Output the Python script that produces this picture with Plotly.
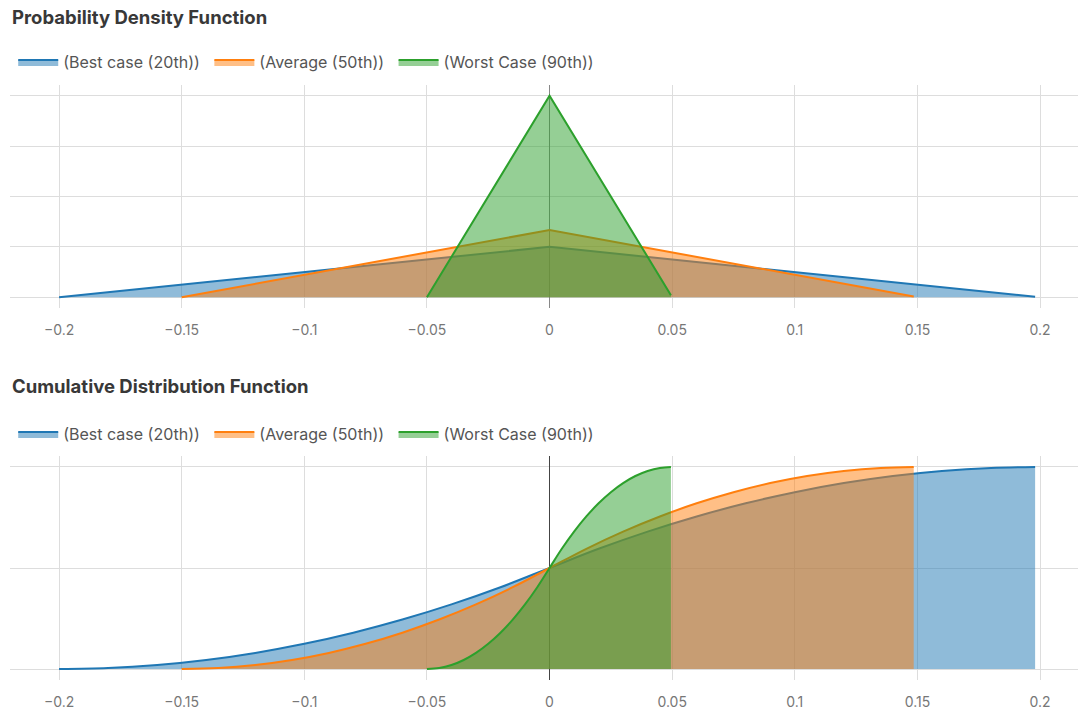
import plotly.graph_objects as go
from plotly.subplots import make_subplots

series_names = ['(Best case (20th))', '(Average (50th))', '(Worst Case (90th))']
colors = ['#1f77b4', '#ff7f0e', '#2ca02c']
fills = ['rgba(31,119,180,0.5)', 'rgba(255,127,14,0.5)', 'rgba(44,160,44,0.5)']

# probability density (triangles)
pdf_best_x = [-0.2, 0, 0.198]
pdf_best_y = [0, 5, 0.05]
pdf_avg_x = [-0.15, 0, 0.1485]
pdf_avg_y = [0, 6.67, 0.067]
pdf_worst_x = [-0.05, 0, 0.0495]
pdf_worst_y = [0, 20, 0.2]

# cumulative distribution
cdf_best_x = [-0.2, -0.18, -0.16, -0.14, -0.12, -0.1, -0.08, -0.06, -0.04, -0.02, 0,
              0.02, 0.04, 0.06, 0.08, 0.1, 0.12, 0.14, 0.16, 0.18, 0.198]
cdf_best_y = [0, 0.005, 0.02, 0.045, 0.08, 0.125, 0.18, 0.245, 0.32, 0.405, 0.5,
              0.595, 0.68, 0.755, 0.82, 0.875, 0.92, 0.955, 0.98, 0.995, 1.0]
cdf_avg_x = [-0.15, -0.135, -0.12, -0.105, -0.09, -0.075, -0.06, -0.045, -0.03, -0.015, 0,
             0.015, 0.03, 0.045, 0.06, 0.075, 0.09, 0.105, 0.12, 0.135, 0.1485]
cdf_avg_y = [0, 0.005, 0.02, 0.045, 0.08, 0.125, 0.18, 0.245, 0.32, 0.405, 0.5,
             0.595, 0.68, 0.755, 0.82, 0.875, 0.92, 0.955, 0.98, 0.995, 1.0]
cdf_worst_x = [-0.05, -0.045, -0.04, -0.035, -0.03, -0.025, -0.02, -0.015, -0.01, -0.005, 0,
               0.005, 0.01, 0.015, 0.02, 0.025, 0.03, 0.035, 0.04, 0.045, 0.0495]
cdf_worst_y = [0, 0.005, 0.02, 0.045, 0.08, 0.125, 0.18, 0.245, 0.32, 0.405, 0.5,
               0.595, 0.68, 0.755, 0.82, 0.875, 0.92, 0.955, 0.98, 0.995, 1.0]

x_ticks = [-0.2, -0.15, -0.1, -0.05, 0, 0.05, 0.1, 0.15, 0.2]

# page has an 8px body margin, so the figure is a bit smaller than the window
W, H = 1078, 702
fig = make_subplots(rows=2, cols=1)

pdf = [(pdf_best_x, pdf_best_y), (pdf_avg_x, pdf_avg_y), (pdf_worst_x, pdf_worst_y)]
cdf = [(cdf_best_x, cdf_best_y), (cdf_avg_x, cdf_avg_y), (cdf_worst_x, cdf_worst_y)]

# a non-breaking space after each name widens the gap between legend entries
for i, (x, y) in enumerate(pdf):
    fig.add_trace(go.Scatter(x=x, y=y, mode='lines', name=series_names[i] + '\u00a0', fill='tozeroy',
                             line=dict(color=colors[i], width=2), fillcolor=fills[i],
                             legend='legend'), row=1, col=1)
for i, (x, y) in enumerate(cdf):
    fig.add_trace(go.Scatter(x=x, y=y, mode='lines', name=series_names[i] + '\u00a0', fill='tozeroy',
                             line=dict(color=colors[i], width=2, shape='spline'), fillcolor=fills[i],
                             legend='legend2'), row=2, col=1)

def py(p):
    # page pixel (from top) -> paper fraction
    return (H - (p - 8)) / H

fig.update_xaxes(range=[-0.22, 0.2163], tickvals=x_ticks, showgrid=True, gridcolor='#dddddd',
                 tickfont=dict(family='Inter', size=14, color='#777777'), showline=False, ticks='',
                 ticklabelstandoff=12)
fig.update_xaxes(zeroline=True, zerolinecolor='#888888', zerolinewidth=1, row=1, col=1)
fig.update_xaxes(zeroline=True, zerolinecolor='#444444', zerolinewidth=1, row=2, col=1)
fig.update_yaxes(showticklabels=False, zeroline=False, gridcolor='#dddddd', ticks='')
fig.update_yaxes(range=[-1.07, 21.07], tickvals=[0, 5, 10, 15, 20], domain=[py(308), py(85)], row=1, col=1)
fig.update_yaxes(range=[-0.054, 1.054], tickvals=[0, 0.5, 1], domain=[py(680), py(456)], row=2, col=1)

legend_style = dict(orientation='h', xanchor='left', yanchor='middle', x=0.003, itemwidth=40,
                    font=dict(family='Inter', size=16, color='#555555'), bgcolor='rgba(0,0,0,0)')

title_font = dict(family='Inter', size=18.5, color='#383838')

fig.update_layout(
    width=W, height=H,
    margin=dict(l=2, r=6, t=0, b=0),
    plot_bgcolor='white', paper_bgcolor='white',
    font=dict(family='Inter'),
    legend=dict(y=py(62), **legend_style),
    legend2=dict(y=py(434), **legend_style),
    annotations=[
        dict(text='<b>Probability Density Function</b>', xref='paper', yref='paper', x=0, y=py(17),
             xanchor='left', yanchor='middle', showarrow=False, font=title_font),
        dict(text='<b>Cumulative Distribution Function</b>', xref='paper', yref='paper', x=0, y=py(386),
             xanchor='left', yanchor='middle', showarrow=False, font=title_font),
    ],
)

fig.write_html("out.html")
